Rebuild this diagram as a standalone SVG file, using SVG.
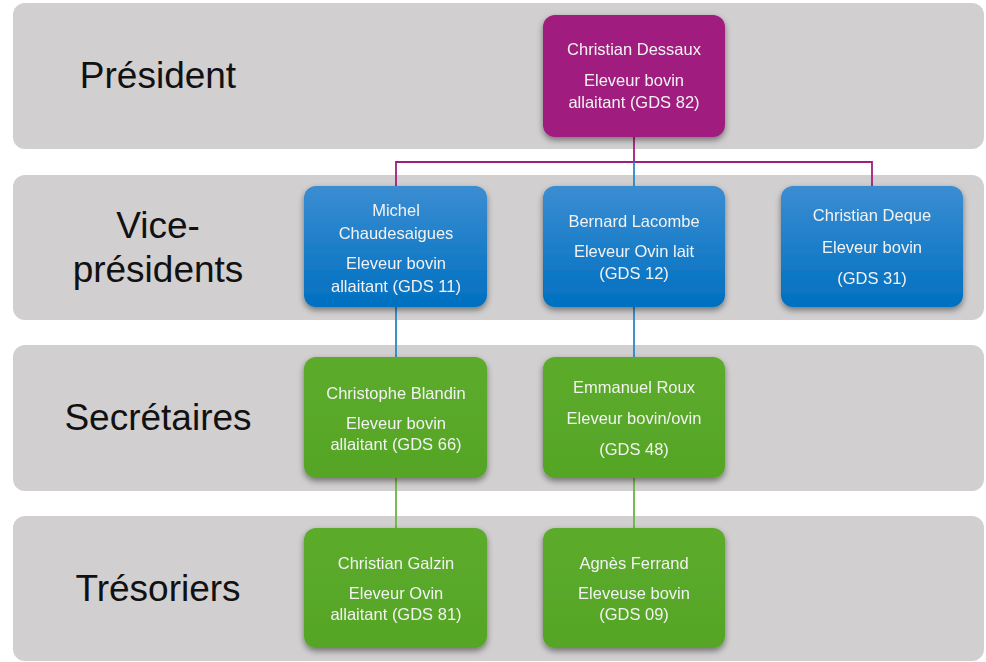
<svg xmlns="http://www.w3.org/2000/svg" width="986" height="662" viewBox="0 0 986 662">
<defs>
<linearGradient id="gBlue" x1="0" y1="0" x2="0" y2="1"><stop offset="0" stop-color="#3b8dd2"/><stop offset="1" stop-color="#0070c0"/></linearGradient>
<linearGradient id="gGreen" x1="0" y1="0" x2="0" y2="1"><stop offset="0" stop-color="#5cab2b"/><stop offset="1" stop-color="#56a527"/></linearGradient>
<filter id="sh" x="-10%" y="-10%" width="120%" height="130%"><feDropShadow dx="0" dy="3" stdDeviation="3" flood-color="#000" flood-opacity="0.45"/></filter>
</defs>
<style>
.band{fill:#d1cfcf}
.bl{font-family:"Liberation Sans",Arial,sans-serif;font-size:37px;fill:#111;text-anchor:middle}
.nt{font-family:"Liberation Sans",Arial,sans-serif;font-size:16.5px;fill:#f2f2f2;text-anchor:middle}
.node{filter:url(#sh)}
.pur{fill:#a01f7e}
.blu{fill:url(#gBlue)}
.grn{fill:url(#gGreen)}
.c{fill:none;stroke-width:1.8}
</style>
<rect width="986" height="662" fill="#ffffff"/>
<g id="bands">
<rect class="band" x="13" y="3" width="971" height="146" rx="12"/>
<rect class="band" x="13" y="175" width="971" height="145" rx="12"/>
<rect class="band" x="13" y="345" width="971" height="146" rx="12"/>
<rect class="band" x="13" y="516" width="971" height="145" rx="12"/>
<text class="bl" x="158" y="88">Président</text>
<text class="bl" x="158" y="238">Vice-</text>
<text class="bl" x="158" y="282">présidents</text>
<text class="bl" x="158" y="430">Secrétaires</text>
<text class="bl" x="158" y="601">Trésoriers</text>
</g>
<g id="connectors">
<path class="c" stroke="#a01f7e" d="M634 137V162M396 186V162H872V186"/>
<path class="c" stroke="#2a86c4" d="M634 162V186"/>
<path class="c" stroke="#2a86c4" d="M396 307V357M634 307V357"/>
<path class="c" stroke="#6ab43c" d="M396 478V528M634 478V528"/>
</g>
<g id="president" class="node">
<rect class="pur" x="543" y="15" width="182" height="122" rx="12"/>
<text class="nt" x="634" y="55">Christian Dessaux</text>
<text class="nt" x="634" y="86">Eleveur bovin</text>
<text class="nt" x="634" y="108">allaitant (GDS 82)</text>
</g>
<g id="vp1" class="node">
<rect class="blu" x="304" y="186" width="183" height="121" rx="12"/>
<text class="nt" x="396" y="216">Michel</text>
<text class="nt" x="396" y="239">Chaudesaigues</text>
<text class="nt" x="396" y="269">Eleveur bovin</text>
<text class="nt" x="396" y="292">allaitant (GDS 11)</text>
</g>
<g id="vp2" class="node">
<rect class="blu" x="543" y="186" width="182" height="121" rx="12"/>
<text class="nt" x="634" y="227">Bernard Lacombe</text>
<text class="nt" x="634" y="257">Eleveur Ovin lait</text>
<text class="nt" x="634" y="279">(GDS 12)</text>
</g>
<g id="vp3" class="node">
<rect class="blu" x="781" y="186" width="182" height="121" rx="12"/>
<text class="nt" x="872" y="221">Christian Deque</text>
<text class="nt" x="872" y="253">Eleveur bovin</text>
<text class="nt" x="872" y="284">(GDS 31)</text>
</g>
<g id="sec1" class="node">
<rect class="grn" x="304" y="357" width="183" height="121" rx="12"/>
<text class="nt" x="396" y="399">Christophe Blandin</text>
<text class="nt" x="396" y="429">Eleveur bovin</text>
<text class="nt" x="396" y="450">allaitant (GDS 66)</text>
</g>
<g id="sec2" class="node">
<rect class="grn" x="543" y="357" width="182" height="121" rx="12"/>
<text class="nt" x="634" y="393">Emmanuel Roux</text>
<text class="nt" x="634" y="424">Eleveur bovin/ovin</text>
<text class="nt" x="634" y="455">(GDS 48)</text>
</g>
<g id="tres1" class="node">
<rect class="grn" x="304" y="528" width="183" height="120" rx="12"/>
<text class="nt" x="396" y="569">Christian Galzin</text>
<text class="nt" x="396" y="599">Eleveur Ovin</text>
<text class="nt" x="396" y="620">allaitant (GDS 81)</text>
</g>
<g id="tres2" class="node">
<rect class="grn" x="543" y="528" width="182" height="120" rx="12"/>
<text class="nt" x="634" y="569">Agnès Ferrand</text>
<text class="nt" x="634" y="599">Eleveuse bovin</text>
<text class="nt" x="634" y="620">(GDS 09)</text>
</g>
</svg>
